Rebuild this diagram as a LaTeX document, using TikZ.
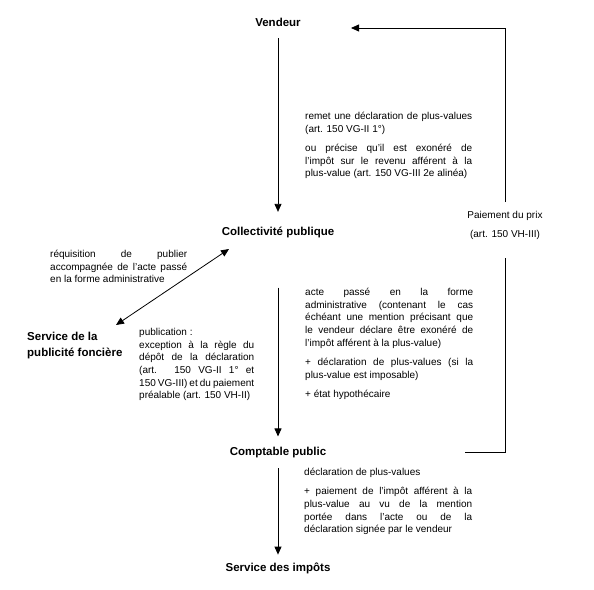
\documentclass[tikz,border=0pt]{standalone}
\usepackage{fontspec}
\setmainfont{Liberation Sans}
\usetikzlibrary{arrows.meta}
\newcommand\notesetup{\tolerance=10000\relax\hyphenpenalty=10000\relax}

\begin{document}
\begin{tikzpicture}[x=1pt, y=-1pt,
  party/.style={font=\fontsize{11.5}{15.5}\selectfont\bfseries, inner sep=0pt, anchor=base},
  note/.style={font=\fontsize{10}{12.7}\selectfont, execute at begin node=\notesetup,
    inner sep=0pt, anchor=north west, align=justify},
  line/.style={line width=0.8pt, -{Triangle[length=8pt,width=7pt]}},
  both/.style={line width=0.8pt, {Triangle[length=8pt,width=7pt]}-{Triangle[length=8pt,width=7pt]}}]
  \useasboundingbox (0,0) rectangle (594,589);

  \node[party] (V) at (278,27) {Vendeur};
  \node[party] (C) at (278,235) {Collectivité publique};
  \node[party] (P) at (278,455) {Comptable public};
  \node[party] (I) at (278,571) {Service des impôts};
  \node[party, align=left, anchor=north west] (F) at (27,332) {Service de la\\publicité foncière};

  \node[note, text width=167pt] (T1) at (305,112) {remet une déclaration de plus-values\linebreak
    (art. 150 VG-II 1°)\par\vspace{6.5pt}
    ou précise qu’il est exonéré de\linebreak l’impôt sur le revenu afférent à la\linebreak
    plus-value (art. 150 VG-III 2e alinéa)};
  \node[note, text width=168pt] (T2) at (305,288) {acte passé en la forme\linebreak
    administrative (contenant le cas\linebreak échéant une mention précisant que\linebreak
    le vendeur déclare être exonéré de\linebreak l’impôt afférent à la plus-value)\par\vspace{6.5pt}
    + déclaration de plus-values (si la\linebreak plus-value est imposable)\par\vspace{6.5pt}
    + état hypothécaire};
  \node[note, text width=168pt] (T3) at (304,468) {déclaration de plus-values\par\vspace{6.5pt}
    + paiement de l’impôt afférent à la\linebreak plus-value au vu de la mention\linebreak
    portée dans l’acte ou de la\linebreak déclaration signée par le vendeur};
  \node[note, text width=137pt] (T4) at (50,250) {réquisition de publier\linebreak
    accompagnée de l’acte passé\linebreak en la forme administrative};
  \node[note, text width=115pt] (T5) at (139,328) {publication :\par
    exception à la règle du\linebreak dépôt de la déclaration\linebreak
    (art. 150 VG-II 1° et\linebreak 150 VG-III) et du paiement\linebreak
    préalable (art. 150 VH-II)};
  \node[font=\fontsize{10}{12.7}\selectfont, inner sep=0pt, align=center, anchor=north] (L) at (505,211)
    {Paiement du prix\\[6.3pt](art. 150 VH-III)};

  \coordinate (Pout) at (465,452);
  \coordinate (Vin) at (351,28);
  \coordinate (Q1) at (229,249);
  \coordinate (Q2) at (116,325);

  \draw[line, shorten <=11pt, shorten >=14.5pt] (V.south) -- (C.north);
  \draw[line, shorten <=50pt, shorten >=10pt] (C.south) -- (P.north);
  \draw[line, shorten <=10.6pt, shorten >=7.6pt] (P.south) -- (I.north);
  \draw[both] (Q1) -- (Q2);
  \draw[line width=0.8pt, shorten >=18.6pt] (Pout) -| (L.south);
  \draw[line, shorten <=9pt] (L.north) |- (Vin);
\end{tikzpicture}
\end{document}
